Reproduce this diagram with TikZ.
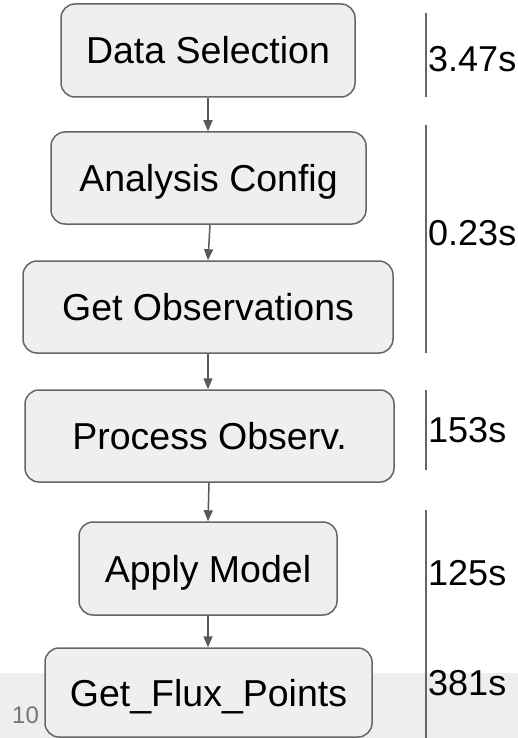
\documentclass[tikz,border=0pt]{standalone}
\usepackage{fontspec}
\setmainfont{Liberation Sans}
\usetikzlibrary{arrows.meta}
\definecolor{boxfill}{HTML}{EFEFEF}
\definecolor{boxline}{HTML}{666666}
\definecolor{arrowc}{HTML}{595959}
\definecolor{band}{HTML}{EEEEEE}
\definecolor{pagenum}{HTML}{777777}
\begin{document}
\begin{tikzpicture}[x=1pt,y=-1pt,
  stepbox/.style={draw=boxline, line width=1.5pt, fill=boxfill, rounded corners=14pt,
    inner sep=0pt, text height=27pt, text depth=0pt, font=\fontsize{37.5}{42}\selectfont},
  flow/.style={draw=arrowc, line width=1.5pt, -{Triangle[width=9pt,length=11pt]}},
  timeline/.style={draw=boxline, line width=1.2pt},
  timelabel/.style={anchor=base west, inner sep=0pt, font=\fontsize{36}{40}\selectfont}]
\useasboundingbox (0,0) rectangle (518,738);
\fill[band] (0,673) rectangle (518,738);
% boxes
\node[stepbox, minimum width=294pt, minimum height=93pt] (b1) at (208,50.5) {Data Selection};
\node[stepbox, minimum width=315pt, minimum height=92pt] (b2) at (208.5,178) {Analysis Config};
\node[stepbox, minimum width=370pt, minimum height=92pt] (b3) at (208,307) {Get Observations};
\node[stepbox, minimum width=369pt, minimum height=92pt] (b4) at (209.5,436) {Process Observ.};
\node[stepbox, minimum width=258pt, minimum height=93pt] (b5) at (208,568.5) {Apply Model};
\node[stepbox, minimum width=327pt, minimum height=89pt] (b6) at (208.5,692.5) {Get\_Flux\_Points};
% arrows
\draw[flow] (b1.south -| 208,0) -- (b2.north -| 208,0);
\draw[flow] (b2.south -| 210,0) -- (b3.north -| 208,0);
\draw[flow] (b3.south -| 208,0) -- (b4.north -| 208,0);
\draw[flow] (b4.south -| 209,0) -- (b5.north -| 208,0);
\draw[flow] (b5.south -| 208,0) -- (b6.north -| 208,0);
% timeline bars
\draw[timeline] (426,13) -- (426,97);
\draw[timeline] (426,125) -- (426,353);
\draw[timeline] (426,390) -- (426,470);
\draw[timeline] (426,510) -- (426,738);
% time labels
\node[timelabel] (t1) at (428,72) {3.47s};
\node[timelabel] (t2) at (428,245) {0.23s};
\node[timelabel] (t3) at (428,442) {153s};
\node[timelabel] (t4) at (428,585) {125s};
\node[timelabel] (t5) at (428,695) {381s};
% page number
\node[anchor=base west, inner sep=0pt, text=pagenum, font=\fontsize{24}{28}\selectfont] (pg) at (12,723) {10};
\end{tikzpicture}
\end{document}
